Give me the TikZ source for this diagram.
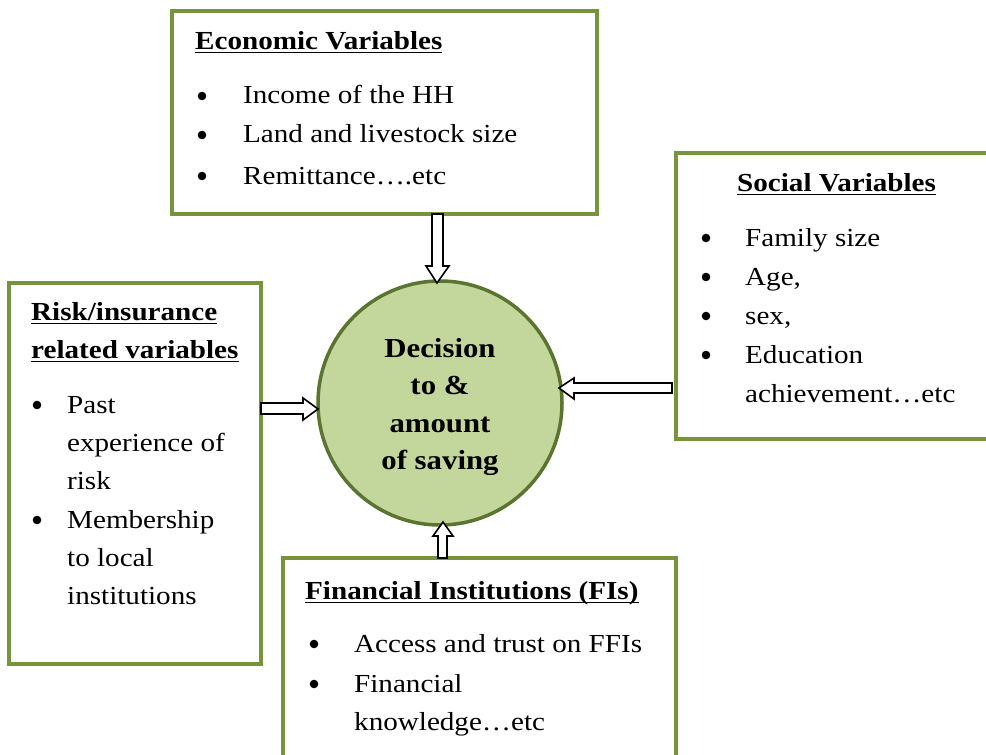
\documentclass[tikz,border=0pt]{standalone}
\usepackage{fontspec}
\setmainfont{Liberation Serif}[FakeStretch=1.12]
\definecolor{boxgreen}{HTML}{77933C}
\definecolor{circfill}{HTML}{C3D69B}
\definecolor{circline}{HTML}{5A7530}
\newcommand{\myul}[1]{\setbox0\hbox{#1}\rlap{\rule[-4pt]{\wd0}{1.5pt}}\box0}
\tikzset{
  panel/.style={draw=boxgreen, line width=3.5pt, fill=white},
  txt/.style={anchor=base west, inner sep=0pt, font=\fontsize{26}{30}\selectfont},
  ttl/.style={anchor=base west, inner sep=0pt, font=\fontsize{26}{30}\selectfont\bfseries},
  ctr/.style={anchor=base, inner sep=0pt, font=\fontsize{27.5}{30}\selectfont\bfseries},
  bul/.style={fill=black},
  blk/.style={draw=black, fill=white, line width=1.6pt, line join=miter},
}
\begin{document}
\begin{tikzpicture}[x=1pt,y=-1pt]
\useasboundingbox (0,0) rectangle (986,755);
% panels
\draw[panel] (172,11) rectangle (597,214);
\draw[panel] (676,153) rectangle (990,439);
\draw[panel] (9,283) rectangle (261,664);
\draw[panel] (283,558) rectangle (676,760);
% circle
\node[circle, draw=circline, fill=circfill, line width=3.5pt, minimum size=244pt, inner sep=0pt] (c) at (440,403) {};
% economic
\node[ttl] (et) at (195,49) {\myul{Economic Variables}};
\fill[bul] (202,96) circle (4.3);
\fill[bul] (202,135) circle (4.3);
\fill[bul] (202,176) circle (4.3);
\node[txt] (e1) at (243,103) {Income of the HH};
\node[txt] (e2) at (243,142) {Land and livestock size};
\node[txt] (e3) at (243,184) {Remittance\ldots.etc};
% social
\node[ttl] (st) at (737,191) {\myul{Social Variables}};
\fill[bul] (706,238) circle (4.3);
\fill[bul] (706,277) circle (4.3);
\fill[bul] (706,316) circle (4.3);
\fill[bul] (706,355) circle (4.3);
\node[txt] (s1) at (745,246) {Family size};
\node[txt] (s2) at (745,285) {Age,};
\node[txt] (s3) at (745,324) {sex,};
\node[txt] (s4) at (745,363) {Education};
\node[txt] (s5) at (745,402) {achievement\ldots etc};
% risk
\node[ttl] (rt1) at (31,320) {\myul{Risk/insurance}};
\node[ttl] (rt2) at (31,358) {\myul{related variables}};
\fill[bul] (37,405) circle (4.3);
\fill[bul] (37,520) circle (4.3);
\node[txt] (r1) at (67,413) {Past};
\node[txt] (r2) at (67,451) {experience of};
\node[txt] (r3) at (67,489) {risk};
\node[txt] (r4) at (67,528) {Membership};
\node[txt] (r5) at (67,566) {to local};
\node[txt] (r6) at (67,604) {institutions};
% financial
\node[ttl] (ft) at (305,599) {\myul{Financial Institutions (FIs)}};
\fill[bul] (314,644) circle (4.3);
\fill[bul] (314,684) circle (4.3);
\node[txt] (f1) at (354,652) {Access and trust on FFIs};
\node[txt] (f2) at (354,692) {Financial};
\node[txt] (f3) at (354,730) {knowledge\ldots etc};
% circle text
\node[ctr] (c1) at (440,357) {Decision};
\node[ctr] (c2) at (440,394) {to \&};
\node[ctr] (c3) at (440,432) {amount};
\node[ctr] (c4) at (440,469) {of saving};
% block arrows
\draw[blk] (432,214) -- (443,214) -- (443,266) -- (449,266) -- (437,283) -- (426,266) -- (432,266) -- cycle;
\draw[blk] (261,403) -- (303,403) -- (303,398) -- (318,409) -- (303,420) -- (303,414) -- (261,414) -- cycle;
\draw[blk] (672,383) -- (574,383) -- (574,378) -- (559,388) -- (574,399) -- (574,393) -- (672,393) -- cycle;
\draw[blk] (438,558) -- (438,536) -- (433,536) -- (443,522) -- (453,536) -- (447,536) -- (447,558) -- cycle;
\end{tikzpicture}
\end{document}
